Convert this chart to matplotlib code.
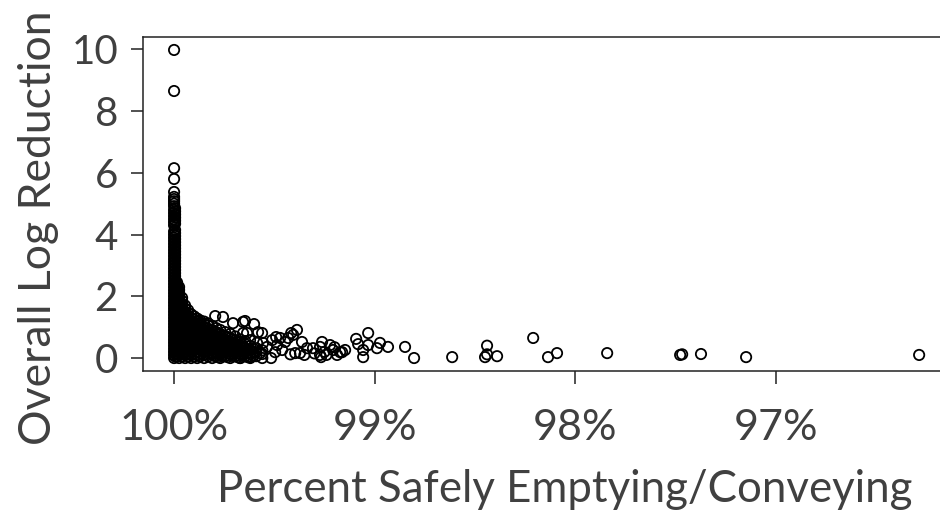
#=======================#
# Libraries importation #
#=======================#

import matplotlib
matplotlib.use("Agg")
import matplotlib.pyplot as plt

#==================#
# Global variables #
#==================#

TEXT_COLOR = "#404040"
FONT = ["Lato", "DejaVu Sans"]

# dense core: one entry per column of points (x in percent), y values typed per column
core_x = [100.0, 99.995, 99.985, 99.975, 99.96, 99.945, 99.93, 99.915, 99.90,
          99.885, 99.87, 99.85, 99.83, 99.81, 99.79, 99.77, 99.745, 99.72,
          99.695, 99.67, 99.645, 99.62, 99.59, 99.56,
          99.80, 99.78, 99.758, 99.733, 99.708, 99.683, 99.658, 99.633, 99.605]
core_y = [
    [0.00, 0.10, 0.20, 0.30, 0.40, 0.50, 0.60, 0.70, 0.80, 0.90, 1.00, 1.10, 1.20,
     1.30, 1.40, 1.50, 1.60, 1.70, 1.80, 1.90, 2.00, 2.10, 2.20, 2.30, 2.40, 2.50,
     2.60, 2.70, 2.80, 2.90, 3.00, 3.10, 3.20, 3.30, 3.40, 3.50, 3.60, 3.70, 3.80,
     3.90, 4.00, 4.10, 4.30, 4.40, 4.50, 4.60, 4.70, 4.80],
    [0.05, 0.15, 0.25, 0.35, 0.45, 0.55, 0.65, 0.75, 0.85, 0.95, 1.05, 1.15, 1.25,
     1.35, 1.45, 1.55, 1.65, 1.75, 1.85, 1.95, 2.05, 2.15, 2.25, 2.35, 2.45, 2.55,
     2.65, 2.75, 2.85, 2.95, 3.05, 3.15, 3.25, 3.35, 3.45, 3.55, 3.65, 3.75, 3.85,
     3.95, 4.05, 4.15, 4.35, 4.45, 4.55, 4.65, 4.75, 4.85],
    [0.05, 0.15, 0.25, 0.35, 0.45, 0.55, 0.65, 0.75, 0.85, 0.95, 1.05, 1.15, 1.25,
     1.35, 1.45, 1.55, 1.65, 1.75, 1.85, 1.95, 2.05, 2.15, 2.25, 2.35, 2.45],
    [0.00, 0.10, 0.20, 0.30, 0.40, 0.50, 0.60, 0.70, 0.80, 0.90, 1.00, 1.10, 1.20,
     1.30, 1.40, 1.50, 1.60, 1.70, 1.80, 1.90, 2.00, 2.10, 2.20, 2.30],
    [0.05, 0.15, 0.25, 0.35, 0.45, 0.55, 0.65, 0.75, 0.85, 0.95, 1.05, 1.15, 1.25,
     1.35, 1.45, 1.55, 1.65, 1.75, 1.85, 1.95],
    [0.00, 0.10, 0.20, 0.30, 0.40, 0.50, 0.60, 0.70, 0.80, 0.90, 1.00, 1.10, 1.20,
     1.30, 1.40, 1.50, 1.60, 1.70],
    [0.05, 0.15, 0.25, 0.35, 0.45, 0.55, 0.65, 0.75, 0.85, 0.95, 1.05, 1.15, 1.25,
     1.35, 1.45, 1.55],
    [0.00, 0.10, 0.20, 0.30, 0.40, 0.50, 0.60, 0.70, 0.80, 0.90, 1.00, 1.10, 1.20,
     1.30, 1.42],
    [0.05, 0.15, 0.25, 0.35, 0.45, 0.55, 0.65, 0.75, 0.85, 0.95, 1.05, 1.15, 1.25,
     1.35],
    [0.00, 0.10, 0.20, 0.30, 0.40, 0.50, 0.60, 0.70, 0.80, 0.90, 1.00, 1.10, 1.20,
     1.28],
    [0.05, 0.15, 0.25, 0.35, 0.45, 0.55, 0.65, 0.75, 0.85, 0.95, 1.05, 1.15, 1.22],
    [0.00, 0.10, 0.20, 0.30, 0.40, 0.50, 0.60, 0.70, 0.80, 0.90, 1.00, 1.10, 1.18],
    [0.05, 0.15, 0.25, 0.35, 0.45, 0.55, 0.65, 0.75, 0.85, 0.95, 1.05, 1.12],
    [0.00, 0.13, 0.26, 0.39, 0.52, 0.65, 0.78, 0.91, 1.04],
    [0.06, 0.19, 0.32, 0.45, 0.58, 0.71, 0.84, 0.97],
    [0.00, 0.13, 0.26, 0.39, 0.52, 0.65, 0.78, 0.91],
    [0.06, 0.19, 0.32, 0.45, 0.58, 0.71, 0.84],
    [0.00, 0.13, 0.26, 0.39, 0.52, 0.65, 0.78],
    [0.06, 0.19, 0.32, 0.45, 0.58, 0.70],
    [0.00, 0.13, 0.26, 0.39, 0.52, 0.60],
    [0.06, 0.19, 0.32, 0.45, 0.55],
    [0.00, 0.13, 0.26, 0.39],
    [0.06, 0.19, 0.32],
    [0.00, 0.13, 0.25],
    [0.07, 0.20, 0.33, 0.46, 0.60, 0.73, 0.86],
    [0.03, 0.16, 0.29, 0.42, 0.55, 0.68, 0.81],
    [0.07, 0.20, 0.33, 0.46, 0.60, 0.73],
    [0.03, 0.16, 0.29, 0.42, 0.55, 0.68],
    [0.07, 0.20, 0.33, 0.46, 0.60],
    [0.03, 0.16, 0.29, 0.42, 0.50],
    [0.07, 0.20, 0.33, 0.42],
    [0.03, 0.16, 0.29],
    [0.07, 0.20, 0.30],
]

# high values sitting on top of the 100% column
top_x = [100.0, 100.0, 100.0, 100.0, 100.0, 100.0, 100.0, 100.0, 100.0, 100.0]
top_y = [4.92, 5.00, 5.08, 5.15, 5.22, 5.38, 5.80, 6.15, 8.65, 9.98]

# scattered points away from the core
scatter_x = [99.795, 99.756, 99.706, 99.646, 99.601, 99.656, 99.581, 99.491, 99.387,
             99.416, 99.431, 99.362, 99.262, 99.222, 99.172, 99.267, 99.187, 99.516,
             99.372, 99.337, 99.307, 99.162, 99.092, 99.032, 99.082, 99.057, 99.057,
             99.032, 98.988, 98.973, 98.933, 98.848, 98.803, 98.613, 98.439, 98.439,
             98.449, 98.389, 98.209, 98.135, 98.090, 97.840, 97.476, 97.466, 97.372,
             97.147, 96.284, 99.656, 99.561, 99.511, 99.471, 99.406, 99.446, 99.486,
             99.571, 99.621, 99.671, 99.396, 99.272, 99.207, 99.147, 99.272, 99.461,
             99.496, 99.536, 99.556, 99.586, 99.621, 99.636, 99.420, 99.350, 99.300,
             99.250, 99.200, 99.240]
scatter_y = [1.36, 1.33, 1.13, 1.20, 1.10, 0.81, 0.84, 0.68, 0.91,
             0.81, 0.65, 0.52, 0.52, 0.42, 0.19, 0.03, 0.10, 0.00,
             0.16, 0.32, 0.32, 0.19, 0.62, 0.81, 0.45, 0.26, 0.03,
             0.42, 0.32, 0.49, 0.36, 0.36, 0.00, 0.03, 0.40, 0.12,
             0.03, 0.06, 0.65, 0.03, 0.16, 0.16, 0.10, 0.12, 0.13,
             0.03, 0.10, 1.17, 0.81, 0.58, 0.65, 0.75, 0.52, 0.42,
             0.16, 0.03, 0.00, 0.16, 0.36, 0.26, 0.26, 0.10, 0.26,
             0.19, 0.36, 0.49, 0.49, 0.58, 0.81, 0.12, 0.10, 0.15,
             0.20, 0.35, 0.10]

x_ticks = [100, 99, 98, 97]
x_tick_labels = ["100%", "99%", "98%", "97%"]
y_ticks = [0, 2, 4, 6, 8, 10]

#==========#
# Plotting #
#==========#

xs = []
ys = []
for cx, col in zip(core_x, core_y):
    xs += [cx] * len(col)
    ys += col
xs += top_x + scatter_x
ys += top_y + scatter_y

fig = plt.figure(figsize=(9.4, 5.11), dpi=100)
ax = fig.add_axes([143 / 940, 140 / 511, 802 / 940, 334 / 511])

ax.scatter(xs, ys, s=55, facecolors="none", edgecolors="black", linewidths=1.3)

ax.set_xlim(100.155, 96.155)
ax.set_ylim(-0.42, 10.4)

ax.set_xticks(x_ticks)
ax.set_xticklabels(x_tick_labels)
ax.set_yticks(y_ticks)

for side in ["top", "bottom", "left"]:
    ax.spines[side].set_linewidth(1.1)
    ax.spines[side].set_color("#222222")
ax.spines["right"].set_visible(False)

ax.tick_params(axis="both", direction="out", length=9, width=1.1, colors="#222222",
               labelcolor=TEXT_COLOR)
ax.tick_params(axis="x", pad=18, labelsize=31)
ax.tick_params(axis="y", pad=9, labelsize=29)
for lab in ax.get_xticklabels() + ax.get_yticklabels():
    lab.set_family(FONT)

fig.text(565 / 940, 9 / 511, "Percent Safely Emptying/Conveying", ha="center",
         va="baseline", fontsize=31.5, color=TEXT_COLOR, family=FONT)
fig.text(39 / 940, (511 - 228) / 511, "Overall Log Reduction", ha="center",
         va="center", rotation=90, fontsize=32, color=TEXT_COLOR, family=FONT)

fig.savefig("out.png", dpi=100)
